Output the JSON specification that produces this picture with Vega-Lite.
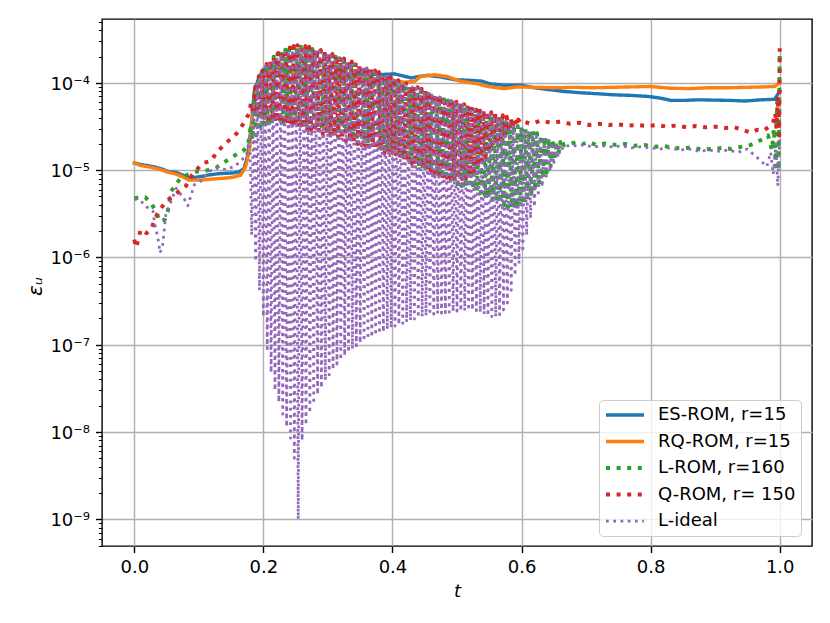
{
  "$schema": "https://vega.github.io/schema/vega-lite/v6.json",
  "width": 710,
  "height": 527,
  "autosize": {"type": "none"},
  "padding": {"left": 102, "top": 19, "right": 18, "bottom": 77},
  "background": "white",
  "config": {
    "font": "DejaVu Sans",
    "view": {"stroke": "black", "strokeWidth": 1.4},
    "axis": {
      "grid": true, "gridColor": "#b0b0b0", "gridWidth": 1.4, "domain": false,
      "tickColor": "black", "tickWidth": 1.4, "tickSize": 6.5,
      "labelFont": "DejaVu Sans", "labelFontSize": 18, "labelColor": "black", "labelPadding": 6,
      "labelOverlap": false, "labelBound": false, "labelFlush": false,
      "titleFont": "DejaVu Sans", "titleFontSize": 18, "titleFontWeight": "normal", "titleColor": "black"
    }
  },
  "data": {
    "values": [
      {"s":"ES","t":0,"e":1.21e-5},{"s":"ES","t":0.01,"e":1.16e-5},{"s":"ES","t":0.026,"e":1.11e-5},{"s":"ES","t":0.04,"e":1.05e-5},{"s":"ES","t":0.052,"e":9.7e-6},{"s":"ES","t":0.065,"e":9.4e-6},{"s":"ES","t":0.075,"e":8.8e-6},{"s":"ES","t":0.085,"e":8.2e-6},{"s":"ES","t":0.095,"e":8.3e-6},{"s":"ES","t":0.105,"e":8.5e-6},{"s":"ES","t":0.115,"e":8.8e-6},{"s":"ES","t":0.129,"e":9.1e-6},{"s":"ES","t":0.14,"e":9.2e-6},{"s":"ES","t":0.153,"e":9.3e-6},{"s":"ES","t":0.163,"e":9.6e-6},{"s":"ES","t":0.17,"e":1.05e-5},{"s":"ES","t":0.176,"e":1.5e-5},{"s":"ES","t":0.181,"e":3.2e-5},{"s":"ES","t":0.186,"e":8e-5},{"s":"ES","t":0.193,"e":1.15e-4},{"s":"ES","t":0.2,"e":1.42e-4},{"s":"ES","t":0.215,"e":1.45e-4},{"s":"ES","t":0.25,"e":1.4e-4},{"s":"ES","t":0.3,"e":1.3e-4},{"s":"ES","t":0.35,"e":1.25e-4},{"s":"ES","t":0.38,"e":1.25e-4},{"s":"ES","t":0.403,"e":1.27e-4},{"s":"ES","t":0.429,"e":1.14e-4},{"s":"ES","t":0.44,"e":1.18e-4},{"s":"ES","t":0.455,"e":1.22e-4},{"s":"ES","t":0.475,"e":1.17e-4},{"s":"ES","t":0.496,"e":1.09e-4},{"s":"ES","t":0.52,"e":1.07e-4},{"s":"ES","t":0.538,"e":1.05e-4},{"s":"ES","t":0.55,"e":9.8e-5},{"s":"ES","t":0.574,"e":9.4e-5},{"s":"ES","t":0.6,"e":9.4e-5},{"s":"ES","t":0.62,"e":8.8e-5},{"s":"ES","t":0.641,"e":8.4e-5},{"s":"ES","t":0.665,"e":8e-5},{"s":"ES","t":0.693,"e":7.7e-5},{"s":"ES","t":0.72,"e":7.5e-5},{"s":"ES","t":0.744,"e":7.3e-5},{"s":"ES","t":0.77,"e":7.2e-5},{"s":"ES","t":0.796,"e":7e-5},{"s":"ES","t":0.815,"e":6.7e-5},{"s":"ES","t":0.832,"e":6.3e-5},{"s":"ES","t":0.85,"e":6.3e-5},{"s":"ES","t":0.873,"e":6.4e-5},{"s":"ES","t":0.9,"e":6.35e-5},{"s":"ES","t":0.925,"e":6.3e-5},{"s":"ES","t":0.946,"e":6.2e-5},{"s":"ES","t":0.97,"e":6.4e-5},{"s":"ES","t":0.992,"e":6.5e-5},{"s":"ES","t":1.0,"e":8e-5},
      {"s":"RQ","t":0,"e":1.21e-5},{"s":"RQ","t":0.01,"e":1.13e-5},{"s":"RQ","t":0.026,"e":1.08e-5},{"s":"RQ","t":0.04,"e":1.02e-5},{"s":"RQ","t":0.052,"e":9.5e-6},{"s":"RQ","t":0.065,"e":9e-6},{"s":"RQ","t":0.075,"e":8.4e-6},{"s":"RQ","t":0.085,"e":7.7e-6},{"s":"RQ","t":0.103,"e":7.7e-6},{"s":"RQ","t":0.12,"e":7.9e-6},{"s":"RQ","t":0.14,"e":8.1e-6},{"s":"RQ","t":0.153,"e":8.3e-6},{"s":"RQ","t":0.165,"e":8.8e-6},{"s":"RQ","t":0.172,"e":1.07e-5},{"s":"RQ","t":0.178,"e":1.6e-5},{"s":"RQ","t":0.184,"e":4.7e-5},{"s":"RQ","t":0.191,"e":9.1e-5},{"s":"RQ","t":0.2,"e":1.3e-4},{"s":"RQ","t":0.215,"e":1.38e-4},{"s":"RQ","t":0.25,"e":1.32e-4},{"s":"RQ","t":0.3,"e":1.24e-4},{"s":"RQ","t":0.35,"e":1.15e-4},{"s":"RQ","t":0.4,"e":1.08e-4},{"s":"RQ","t":0.418,"e":1.02e-4},{"s":"RQ","t":0.434,"e":1.04e-4},{"s":"RQ","t":0.444,"e":1.19e-4},{"s":"RQ","t":0.465,"e":1.24e-4},{"s":"RQ","t":0.485,"e":1.18e-4},{"s":"RQ","t":0.506,"e":1.04e-4},{"s":"RQ","t":0.53,"e":9.8e-5},{"s":"RQ","t":0.548,"e":9.1e-5},{"s":"RQ","t":0.573,"e":8.6e-5},{"s":"RQ","t":0.594,"e":9e-5},{"s":"RQ","t":0.62,"e":8.9e-5},{"s":"RQ","t":0.65,"e":8.8e-5},{"s":"RQ","t":0.68,"e":8.9e-5},{"s":"RQ","t":0.71,"e":8.8e-5},{"s":"RQ","t":0.74,"e":8.9e-5},{"s":"RQ","t":0.77,"e":9e-5},{"s":"RQ","t":0.8,"e":9.1e-5},{"s":"RQ","t":0.83,"e":8.7e-5},{"s":"RQ","t":0.86,"e":8.6e-5},{"s":"RQ","t":0.89,"e":8.8e-5},{"s":"RQ","t":0.92,"e":8.8e-5},{"s":"RQ","t":0.95,"e":8.9e-5},{"s":"RQ","t":0.975,"e":9e-5},{"s":"RQ","t":0.992,"e":9.1e-5},{"s":"RQ","t":1.0,"e":1.0e-4},
      {"s":"L","t":0,"e":4.8e-6},{"s":"L","t":0.017,"e":4.9e-6},{"s":"L","t":0.027,"e":4.1e-6},{"s":"L","t":0.035,"e":3.2e-6},{"s":"L","t":0.039,"e":2.6e-6},{"s":"L","t":0.047,"e":2.7e-6},{"s":"L","t":0.052,"e":3.4e-6},{"s":"L","t":0.057,"e":5.7e-6},{"s":"L","t":0.072,"e":8.2e-6},{"s":"L","t":0.085,"e":9e-6},{"s":"L","t":0.098,"e":9.7e-6},{"s":"L","t":0.114,"e":1e-5},{"s":"L","t":0.127,"e":1.07e-5},{"s":"L","t":0.142,"e":1.27e-5},{"s":"L","t":0.153,"e":1.44e-5},{"s":"L","t":0.168,"e":1.65e-5},{"s":"L","t":0.176,"e":1.88e-5},
      {"s":"L","t":0.18,"e":3e-5},{"s":"L","t":0.183,"e":2.2e-5},{"s":"L","t":0.186,"e":6e-5},{"s":"L","t":0.189,"e":2.5e-5},{"s":"L","t":0.192,"e":1e-4},{"s":"L","t":0.195,"e":2.8e-5},{"s":"L","t":0.198,"e":1.35e-4},{"s":"L","t":0.201,"e":3e-5},{"s":"L","t":0.204,"e":1.6e-4},{"s":"L","t":0.207,"e":3.15e-5},{"s":"L","t":0.21,"e":1.8e-4},{"s":"L","t":0.213,"e":3.3e-5},{"s":"L","t":0.216,"e":2e-4},{"s":"L","t":0.219,"e":3.4e-5},{"s":"L","t":0.222,"e":2.15e-4},{"s":"L","t":0.225,"e":3.5e-5},{"s":"L","t":0.228,"e":2.3e-4},{"s":"L","t":0.231,"e":3.5e-5},{"s":"L","t":0.234,"e":2.4e-4},{"s":"L","t":0.237,"e":3.5e-5},{"s":"L","t":0.24,"e":2.5e-4},{"s":"L","t":0.243,"e":3.5e-5},{"s":"L","t":0.246,"e":2.55e-4},{"s":"L","t":0.249,"e":3.45e-5},{"s":"L","t":0.252,"e":2.6e-4},{"s":"L","t":0.255,"e":3.4e-5},{"s":"L","t":0.258,"e":2.6e-4},{"s":"L","t":0.261,"e":3.35e-5},{"s":"L","t":0.264,"e":2.6e-4},{"s":"L","t":0.267,"e":3.3e-5},{"s":"L","t":0.27,"e":2.55e-4},{"s":"L","t":0.273,"e":3.25e-5},{"s":"L","t":0.276,"e":2.45e-4},{"s":"L","t":0.279,"e":3.15e-5},{"s":"L","t":0.282,"e":2.4e-4},{"s":"L","t":0.285,"e":3.1e-5},{"s":"L","t":0.288,"e":2.32e-4},{"s":"L","t":0.291,"e":3.05e-5},{"s":"L","t":0.294,"e":2.25e-4},{"s":"L","t":0.297,"e":3e-5},{"s":"L","t":0.3,"e":2.17e-4},{"s":"L","t":0.303,"e":2.9e-5},{"s":"L","t":0.306,"e":2.08e-4},{"s":"L","t":0.309,"e":2.85e-5},{"s":"L","t":0.312,"e":2e-4},{"s":"L","t":0.315,"e":2.8e-5},{"s":"L","t":0.318,"e":1.92e-4},{"s":"L","t":0.321,"e":2.7e-5},{"s":"L","t":0.324,"e":1.84e-4},{"s":"L","t":0.327,"e":2.6e-5},{"s":"L","t":0.33,"e":1.77e-4},{"s":"L","t":0.333,"e":2.55e-5},{"s":"L","t":0.336,"e":1.7e-4},{"s":"L","t":0.339,"e":2.45e-5},{"s":"L","t":0.342,"e":1.64e-4},{"s":"L","t":0.345,"e":2.4e-5},{"s":"L","t":0.348,"e":1.58e-4},{"s":"L","t":0.351,"e":2.3e-5},{"s":"L","t":0.354,"e":1.52e-4},{"s":"L","t":0.357,"e":2.2e-5},{"s":"L","t":0.36,"e":1.46e-4},{"s":"L","t":0.363,"e":2.15e-5},{"s":"L","t":0.366,"e":1.4e-4},{"s":"L","t":0.369,"e":2.05e-5},{"s":"L","t":0.372,"e":1.33e-4},{"s":"L","t":0.375,"e":1.95e-5},{"s":"L","t":0.378,"e":1.27e-4},{"s":"L","t":0.381,"e":1.85e-5},{"s":"L","t":0.384,"e":1.21e-4},{"s":"L","t":0.387,"e":1.78e-5},{"s":"L","t":0.39,"e":1.15e-4},{"s":"L","t":0.393,"e":1.7e-5},{"s":"L","t":0.396,"e":1.1e-4},{"s":"L","t":0.399,"e":1.6e-5},{"s":"L","t":0.402,"e":1.05e-4},{"s":"L","t":0.405,"e":1.52e-5},{"s":"L","t":0.408,"e":1.01e-4},{"s":"L","t":0.411,"e":1.45e-5},{"s":"L","t":0.414,"e":9.7e-5},{"s":"L","t":0.417,"e":1.37e-5},{"s":"L","t":0.42,"e":9.3e-5},{"s":"L","t":0.423,"e":1.3e-5},{"s":"L","t":0.426,"e":9e-5},{"s":"L","t":0.429,"e":1.24e-5},{"s":"L","t":0.432,"e":8.7e-5},{"s":"L","t":0.435,"e":1.17e-5},{"s":"L","t":0.438,"e":8.4e-5},{"s":"L","t":0.441,"e":1.1e-5},{"s":"L","t":0.444,"e":8.1e-5},{"s":"L","t":0.447,"e":1.05e-5},{"s":"L","t":0.45,"e":7.8e-5},{"s":"L","t":0.453,"e":1e-5},{"s":"L","t":0.456,"e":7.5e-5},{"s":"L","t":0.459,"e":9.5e-6},{"s":"L","t":0.462,"e":7.2e-5},{"s":"L","t":0.465,"e":9.1e-6},{"s":"L","t":0.468,"e":6.95e-5},{"s":"L","t":0.471,"e":8.7e-6},{"s":"L","t":0.474,"e":6.7e-5},{"s":"L","t":0.477,"e":8.2e-6},{"s":"L","t":0.48,"e":6.5e-5},{"s":"L","t":0.483,"e":7.8e-6},{"s":"L","t":0.486,"e":6.3e-5},{"s":"L","t":0.489,"e":7.5e-6},{"s":"L","t":0.492,"e":6.1e-5},{"s":"L","t":0.495,"e":7.2e-6},{"s":"L","t":0.498,"e":5.9e-5},{"s":"L","t":0.501,"e":6.9e-6},{"s":"L","t":0.504,"e":5.65e-5},{"s":"L","t":0.507,"e":6.6e-6},{"s":"L","t":0.51,"e":5.45e-5},{"s":"L","t":0.513,"e":6.4e-6},{"s":"L","t":0.516,"e":5.25e-5},{"s":"L","t":0.519,"e":6.2e-6},{"s":"L","t":0.522,"e":5.05e-5},{"s":"L","t":0.525,"e":6e-6},{"s":"L","t":0.528,"e":4.85e-5},{"s":"L","t":0.531,"e":5.7e-6},{"s":"L","t":0.534,"e":4.7e-5},{"s":"L","t":0.537,"e":5.5e-6},{"s":"L","t":0.54,"e":4.5e-5},{"s":"L","t":0.543,"e":5.2e-6},{"s":"L","t":0.546,"e":4.35e-5},{"s":"L","t":0.549,"e":4.9e-6},{"s":"L","t":0.552,"e":4.15e-5},{"s":"L","t":0.555,"e":4.6e-6},{"s":"L","t":0.558,"e":4e-5},{"s":"L","t":0.561,"e":4.4e-6},{"s":"L","t":0.564,"e":3.85e-5},{"s":"L","t":0.567,"e":4.2e-6},{"s":"L","t":0.57,"e":3.7e-5},{"s":"L","t":0.573,"e":4e-6},{"s":"L","t":0.576,"e":3.55e-5},{"s":"L","t":0.579,"e":3.8e-6},{"s":"L","t":0.582,"e":3.4e-5},{"s":"L","t":0.585,"e":3.7e-6},{"s":"L","t":0.588,"e":3.3e-5},{"s":"L","t":0.591,"e":3.7e-6},{"s":"L","t":0.594,"e":3.2e-5},{"s":"L","t":0.597,"e":3.8e-6},{"s":"L","t":0.6,"e":3.1e-5},{"s":"L","t":0.603,"e":4e-6},{"s":"L","t":0.606,"e":3e-5},{"s":"L","t":0.609,"e":4.4e-6},{"s":"L","t":0.612,"e":2.9e-5},{"s":"L","t":0.615,"e":5e-6},{"s":"L","t":0.618,"e":2.8e-5},{"s":"L","t":0.621,"e":5.8e-6},{"s":"L","t":0.624,"e":2.65e-5},{"s":"L","t":0.627,"e":6.8e-6},{"s":"L","t":0.63,"e":2.55e-5},{"s":"L","t":0.633,"e":8e-6},{"s":"L","t":0.636,"e":2.45e-5},{"s":"L","t":0.639,"e":9.4e-6},{"s":"L","t":0.642,"e":2.35e-5},{"s":"L","t":0.645,"e":1.1e-5},{"s":"L","t":0.648,"e":2.25e-5},{"s":"L","t":0.651,"e":1.3e-5},{"s":"L","t":0.654,"e":2.15e-5},{"s":"L","t":0.657,"e":1.5e-5},{"s":"L","t":0.66,"e":2.1e-5},{"s":"L","t":0.663,"e":1.75e-5},{"s":"L","t":0.666,"e":2e-5},
      {"s":"L","t":0.675,"e":2e-5},{"s":"L","t":0.685,"e":2.1e-5},{"s":"L","t":0.695,"e":2e-5},{"s":"L","t":0.705,"e":2.1e-5},{"s":"L","t":0.715,"e":1.95e-5},{"s":"L","t":0.73,"e":2.02e-5},{"s":"L","t":0.745,"e":1.95e-5},{"s":"L","t":0.76,"e":2e-5},{"s":"L","t":0.775,"e":1.9e-5},{"s":"L","t":0.79,"e":1.95e-5},{"s":"L","t":0.805,"e":1.85e-5},{"s":"L","t":0.82,"e":1.9e-5},{"s":"L","t":0.835,"e":1.8e-5},{"s":"L","t":0.85,"e":1.78e-5},{"s":"L","t":0.865,"e":1.82e-5},{"s":"L","t":0.88,"e":1.72e-5},{"s":"L","t":0.895,"e":1.75e-5},{"s":"L","t":0.91,"e":1.8e-5},{"s":"L","t":0.925,"e":1.75e-5},{"s":"L","t":0.94,"e":1.85e-5},{"s":"L","t":0.955,"e":1.95e-5},{"s":"L","t":0.965,"e":2.1e-5},{"s":"L","t":0.975,"e":2.3e-5},{"s":"L","t":0.982,"e":2.5e-5},{"s":"L","t":0.988,"e":1.7e-5},{"s":"L","t":0.991,"e":3e-5},{"s":"L","t":0.994,"e":1.1e-5},{"s":"L","t":0.996,"e":6e-5},{"s":"L","t":0.998,"e":1e-5},{"s":"L","t":1.0,"e":2.1e-4},
      {"s":"Q","t":0,"e":1.6e-6},{"s":"Q","t":0.003,"e":1.3e-6},{"s":"Q","t":0.007,"e":1.7e-6},{"s":"Q","t":0.01,"e":2.1e-6},{"s":"Q","t":0.019,"e":1.9e-6},{"s":"Q","t":0.026,"e":2.1e-6},{"s":"Q","t":0.036,"e":3.2e-6},{"s":"Q","t":0.049,"e":4.4e-6},{"s":"Q","t":0.062,"e":5.2e-6},{"s":"Q","t":0.08,"e":6.6e-6},{"s":"Q","t":0.09,"e":8.9e-6},{"s":"Q","t":0.106,"e":1.21e-5},{"s":"Q","t":0.119,"e":1.27e-5},{"s":"Q","t":0.127,"e":1.58e-5},{"s":"Q","t":0.142,"e":2.06e-5},{"s":"Q","t":0.155,"e":2.45e-5},{"s":"Q","t":0.163,"e":2.9e-5},{"s":"Q","t":0.171,"e":3.6e-5},{"s":"Q","t":0.178,"e":4.5e-5},
      {"s":"Q","t":0.181,"e":6e-5},{"s":"Q","t":0.184,"e":4.5e-5},{"s":"Q","t":0.187,"e":9e-5},{"s":"Q","t":0.19,"e":4.4e-5},{"s":"Q","t":0.193,"e":1.2e-4},{"s":"Q","t":0.196,"e":4.2e-5},{"s":"Q","t":0.199,"e":1.45e-4},{"s":"Q","t":0.202,"e":4e-5},{"s":"Q","t":0.205,"e":1.65e-4},{"s":"Q","t":0.208,"e":3.9e-5},{"s":"Q","t":0.211,"e":1.85e-4},{"s":"Q","t":0.214,"e":3.75e-5},{"s":"Q","t":0.217,"e":2.05e-4},{"s":"Q","t":0.22,"e":3.6e-5},{"s":"Q","t":0.223,"e":2.2e-4},{"s":"Q","t":0.226,"e":3.5e-5},{"s":"Q","t":0.229,"e":2.35e-4},{"s":"Q","t":0.232,"e":3.4e-5},{"s":"Q","t":0.235,"e":2.45e-4},{"s":"Q","t":0.238,"e":3.3e-5},{"s":"Q","t":0.241,"e":2.55e-4},{"s":"Q","t":0.244,"e":3.25e-5},{"s":"Q","t":0.247,"e":2.65e-4},{"s":"Q","t":0.25,"e":3.2e-5},{"s":"Q","t":0.253,"e":2.7e-4},{"s":"Q","t":0.256,"e":3.1e-5},{"s":"Q","t":0.259,"e":2.7e-4},{"s":"Q","t":0.262,"e":3e-5},{"s":"Q","t":0.265,"e":2.65e-4},{"s":"Q","t":0.268,"e":2.9e-5},{"s":"Q","t":0.271,"e":2.6e-4},{"s":"Q","t":0.274,"e":2.85e-5},{"s":"Q","t":0.277,"e":2.52e-4},{"s":"Q","t":0.28,"e":2.75e-5},{"s":"Q","t":0.283,"e":2.45e-4},{"s":"Q","t":0.286,"e":2.7e-5},{"s":"Q","t":0.289,"e":2.38e-4},{"s":"Q","t":0.292,"e":2.6e-5},{"s":"Q","t":0.295,"e":2.3e-4},{"s":"Q","t":0.298,"e":2.55e-5},{"s":"Q","t":0.301,"e":2.22e-4},{"s":"Q","t":0.304,"e":2.5e-5},{"s":"Q","t":0.307,"e":2.14e-4},{"s":"Q","t":0.31,"e":2.4e-5},{"s":"Q","t":0.313,"e":2.06e-4},{"s":"Q","t":0.316,"e":2.35e-5},{"s":"Q","t":0.319,"e":1.98e-4},{"s":"Q","t":0.322,"e":2.25e-5},{"s":"Q","t":0.325,"e":1.9e-4},{"s":"Q","t":0.328,"e":2.15e-5},{"s":"Q","t":0.331,"e":1.83e-4},{"s":"Q","t":0.334,"e":2.1e-5},{"s":"Q","t":0.337,"e":1.76e-4},{"s":"Q","t":0.34,"e":2.05e-5},{"s":"Q","t":0.343,"e":1.7e-4},{"s":"Q","t":0.346,"e":2e-5},{"s":"Q","t":0.349,"e":1.63e-4},{"s":"Q","t":0.352,"e":1.95e-5},{"s":"Q","t":0.355,"e":1.57e-4},{"s":"Q","t":0.358,"e":1.9e-5},{"s":"Q","t":0.361,"e":1.51e-4},{"s":"Q","t":0.364,"e":1.85e-5},{"s":"Q","t":0.367,"e":1.45e-4},{"s":"Q","t":0.37,"e":1.8e-5},{"s":"Q","t":0.373,"e":1.39e-4},{"s":"Q","t":0.376,"e":1.72e-5},{"s":"Q","t":0.379,"e":1.33e-4},{"s":"Q","t":0.382,"e":1.65e-5},{"s":"Q","t":0.385,"e":1.27e-4},{"s":"Q","t":0.388,"e":1.6e-5},{"s":"Q","t":0.391,"e":1.22e-4},{"s":"Q","t":0.394,"e":1.55e-5},{"s":"Q","t":0.397,"e":1.17e-4},{"s":"Q","t":0.4,"e":1.5e-5},{"s":"Q","t":0.403,"e":1.12e-4},{"s":"Q","t":0.406,"e":1.44e-5},{"s":"Q","t":0.409,"e":1.07e-4},{"s":"Q","t":0.412,"e":1.38e-5},{"s":"Q","t":0.415,"e":1.03e-4},{"s":"Q","t":0.418,"e":1.32e-5},{"s":"Q","t":0.421,"e":9.9e-5},{"s":"Q","t":0.424,"e":1.26e-5},{"s":"Q","t":0.427,"e":9.5e-5},{"s":"Q","t":0.43,"e":1.2e-5},{"s":"Q","t":0.433,"e":9.2e-5},{"s":"Q","t":0.436,"e":1.15e-5},{"s":"Q","t":0.439,"e":8.9e-5},{"s":"Q","t":0.442,"e":1.1e-5},{"s":"Q","t":0.445,"e":8.6e-5},{"s":"Q","t":0.448,"e":1.06e-5},{"s":"Q","t":0.451,"e":8.3e-5},{"s":"Q","t":0.454,"e":1.02e-5},{"s":"Q","t":0.457,"e":8e-5},{"s":"Q","t":0.46,"e":9.8e-6},{"s":"Q","t":0.463,"e":7.7e-5},{"s":"Q","t":0.466,"e":9.3e-6},{"s":"Q","t":0.469,"e":7.4e-5},{"s":"Q","t":0.472,"e":8.9e-6},{"s":"Q","t":0.475,"e":7.1e-5},{"s":"Q","t":0.478,"e":8.5e-6},{"s":"Q","t":0.481,"e":6.8e-5},{"s":"Q","t":0.484,"e":8.2e-6},{"s":"Q","t":0.487,"e":6.5e-5},{"s":"Q","t":0.49,"e":8e-6},{"s":"Q","t":0.493,"e":6.3e-5},{"s":"Q","t":0.496,"e":7.8e-6},{"s":"Q","t":0.499,"e":6.1e-5},{"s":"Q","t":0.502,"e":7.8e-6},{"s":"Q","t":0.505,"e":5.9e-5},{"s":"Q","t":0.508,"e":7.9e-6},{"s":"Q","t":0.511,"e":5.7e-5},{"s":"Q","t":0.514,"e":8.2e-6},{"s":"Q","t":0.517,"e":5.5e-5},{"s":"Q","t":0.52,"e":8.8e-6},{"s":"Q","t":0.523,"e":5.35e-5},{"s":"Q","t":0.526,"e":9.8e-6},{"s":"Q","t":0.529,"e":5.2e-5},{"s":"Q","t":0.532,"e":1.1e-5},{"s":"Q","t":0.535,"e":5.05e-5},{"s":"Q","t":0.538,"e":1.25e-5},{"s":"Q","t":0.541,"e":4.9e-5},{"s":"Q","t":0.544,"e":1.42e-5},{"s":"Q","t":0.547,"e":4.75e-5},{"s":"Q","t":0.55,"e":1.6e-5},{"s":"Q","t":0.553,"e":4.6e-5},{"s":"Q","t":0.556,"e":1.8e-5},{"s":"Q","t":0.559,"e":4.5e-5},{"s":"Q","t":0.562,"e":2e-5},{"s":"Q","t":0.565,"e":4.4e-5},{"s":"Q","t":0.568,"e":2.25e-5},{"s":"Q","t":0.571,"e":4.25e-5},{"s":"Q","t":0.574,"e":2.5e-5},{"s":"Q","t":0.577,"e":4.1e-5},{"s":"Q","t":0.58,"e":2.75e-5},{"s":"Q","t":0.583,"e":4e-5},{"s":"Q","t":0.586,"e":3e-5},{"s":"Q","t":0.589,"e":3.9e-5},{"s":"Q","t":0.592,"e":3.25e-5},{"s":"Q","t":0.595,"e":3.8e-5},{"s":"Q","t":0.598,"e":3.5e-5},{"s":"Q","t":0.601,"e":3.65e-5},
      {"s":"Q","t":0.615,"e":3.4e-5},{"s":"Q","t":0.63,"e":3.7e-5},{"s":"Q","t":0.645,"e":3.5e-5},{"s":"Q","t":0.66,"e":3.6e-5},{"s":"Q","t":0.675,"e":3.4e-5},{"s":"Q","t":0.69,"e":3.5e-5},{"s":"Q","t":0.705,"e":3.3e-5},{"s":"Q","t":0.72,"e":3.4e-5},{"s":"Q","t":0.735,"e":3.3e-5},{"s":"Q","t":0.75,"e":3.35e-5},{"s":"Q","t":0.765,"e":3.25e-5},{"s":"Q","t":0.78,"e":3.3e-5},{"s":"Q","t":0.795,"e":3.2e-5},{"s":"Q","t":0.81,"e":3.3e-5},{"s":"Q","t":0.825,"e":3.15e-5},{"s":"Q","t":0.84,"e":3.25e-5},{"s":"Q","t":0.855,"e":3.1e-5},{"s":"Q","t":0.87,"e":3.2e-5},{"s":"Q","t":0.885,"e":3.1e-5},{"s":"Q","t":0.9,"e":3.15e-5},{"s":"Q","t":0.915,"e":3.05e-5},{"s":"Q","t":0.93,"e":3.1e-5},{"s":"Q","t":0.945,"e":2.85e-5},{"s":"Q","t":0.955,"e":2.7e-5},{"s":"Q","t":0.965,"e":2.9e-5},{"s":"Q","t":0.975,"e":2.85e-5},{"s":"Q","t":0.985,"e":3.2e-5},{"s":"Q","t":0.99,"e":3.6e-5},{"s":"Q","t":0.993,"e":4.5e-5},{"s":"Q","t":0.995,"e":3e-5},{"s":"Q","t":0.997,"e":7e-5},{"s":"Q","t":0.999,"e":2.5e-5},{"s":"Q","t":1.0,"e":2.5e-4},
      {"s":"I","t":0,"e":4.7e-6},{"s":"I","t":0.012,"e":4.3e-6},{"s":"I","t":0.019,"e":3.8e-6},{"s":"I","t":0.029,"e":3.4e-6},{"s":"I","t":0.031,"e":2.6e-6},{"s":"I","t":0.033,"e":2.2e-6},{"s":"I","t":0.037,"e":1.6e-6},{"s":"I","t":0.04,"e":1.13e-6},{"s":"I","t":0.044,"e":1.4e-6},{"s":"I","t":0.049,"e":3.1e-6},{"s":"I","t":0.057,"e":4.4e-6},{"s":"I","t":0.065,"e":6.2e-6},{"s":"I","t":0.078,"e":4.6e-6},{"s":"I","t":0.083,"e":3.9e-6},{"s":"I","t":0.093,"e":6.8e-6},{"s":"I","t":0.103,"e":7.5e-6},{"s":"I","t":0.116,"e":9.7e-6},{"s":"I","t":0.127,"e":1.06e-5},{"s":"I","t":0.142,"e":1.02e-5},{"s":"I","t":0.155,"e":1.1e-5},{"s":"I","t":0.165,"e":1.27e-5},{"s":"I","t":0.174,"e":1.5e-5},
      {"s":"I","t":0.179,"e":2.5e-5},{"s":"I","t":0.182,"e":1.8e-6},{"s":"I","t":0.185,"e":6e-5},{"s":"I","t":0.188,"e":9e-7},{"s":"I","t":0.191,"e":1e-4},{"s":"I","t":0.194,"e":4.2e-7},{"s":"I","t":0.197,"e":1.3e-4},{"s":"I","t":0.2,"e":2.1e-7},{"s":"I","t":0.203,"e":1.55e-4},{"s":"I","t":0.206,"e":9e-8},{"s":"I","t":0.209,"e":1.75e-4},{"s":"I","t":0.212,"e":4.8e-8},{"s":"I","t":0.215,"e":1.9e-4},{"s":"I","t":0.218,"e":3e-8},{"s":"I","t":0.221,"e":2.05e-4},{"s":"I","t":0.224,"e":2.2e-8},{"s":"I","t":0.227,"e":2.15e-4},{"s":"I","t":0.23,"e":1.6e-8},{"s":"I","t":0.233,"e":2.25e-4},{"s":"I","t":0.236,"e":1.15e-8},{"s":"I","t":0.239,"e":2.35e-4},{"s":"I","t":0.242,"e":8.5e-9},{"s":"I","t":0.245,"e":2.4e-4},{"s":"I","t":0.248,"e":5e-9},{"s":"I","t":0.251,"e":2.45e-4},{"s":"I","t":0.254,"e":1e-9},{"s":"I","t":0.257,"e":2.5e-4},{"s":"I","t":0.26,"e":8e-9},{"s":"I","t":0.263,"e":2.5e-4},{"s":"I","t":0.266,"e":1.2e-8},{"s":"I","t":0.269,"e":2.45e-4},{"s":"I","t":0.272,"e":1.65e-8},{"s":"I","t":0.275,"e":2.4e-4},{"s":"I","t":0.278,"e":2.1e-8},{"s":"I","t":0.281,"e":2.35e-4},{"s":"I","t":0.284,"e":2.7e-8},{"s":"I","t":0.287,"e":2.3e-4},{"s":"I","t":0.29,"e":3.2e-8},{"s":"I","t":0.293,"e":2.2e-4},{"s":"I","t":0.296,"e":3.9e-8},{"s":"I","t":0.299,"e":2.15e-4},{"s":"I","t":0.302,"e":4.5e-8},{"s":"I","t":0.305,"e":2.05e-4},{"s":"I","t":0.308,"e":5.2e-8},{"s":"I","t":0.311,"e":1.98e-4},{"s":"I","t":0.314,"e":6e-8},{"s":"I","t":0.317,"e":1.9e-4},{"s":"I","t":0.32,"e":6.7e-8},{"s":"I","t":0.323,"e":1.83e-4},{"s":"I","t":0.326,"e":7.5e-8},{"s":"I","t":0.329,"e":1.77e-4},{"s":"I","t":0.332,"e":8.2e-8},{"s":"I","t":0.335,"e":1.7e-4},{"s":"I","t":0.338,"e":9e-8},{"s":"I","t":0.341,"e":1.63e-4},{"s":"I","t":0.344,"e":9.7e-8},{"s":"I","t":0.347,"e":1.57e-4},{"s":"I","t":0.35,"e":1.05e-7},{"s":"I","t":0.353,"e":1.52e-4},{"s":"I","t":0.356,"e":1.1e-7},{"s":"I","t":0.359,"e":1.47e-4},{"s":"I","t":0.362,"e":1.16e-7},{"s":"I","t":0.365,"e":1.4e-4},{"s":"I","t":0.368,"e":1.22e-7},{"s":"I","t":0.371,"e":1.35e-4},{"s":"I","t":0.374,"e":1.28e-7},{"s":"I","t":0.377,"e":1.29e-4},{"s":"I","t":0.38,"e":1.34e-7},{"s":"I","t":0.383,"e":1.23e-4},{"s":"I","t":0.386,"e":1.4e-7},{"s":"I","t":0.389,"e":1.18e-4},{"s":"I","t":0.392,"e":1.5e-7},{"s":"I","t":0.395,"e":1.13e-4},{"s":"I","t":0.398,"e":1.57e-7},{"s":"I","t":0.401,"e":1.09e-4},{"s":"I","t":0.404,"e":1.63e-7},{"s":"I","t":0.407,"e":1.05e-4},{"s":"I","t":0.41,"e":1.7e-7},{"s":"I","t":0.413,"e":1.01e-4},{"s":"I","t":0.416,"e":1.76e-7},{"s":"I","t":0.419,"e":9.7e-5},{"s":"I","t":0.422,"e":1.82e-7},{"s":"I","t":0.425,"e":9.3e-5},{"s":"I","t":0.428,"e":1.9e-7},{"s":"I","t":0.431,"e":9e-5},{"s":"I","t":0.434,"e":1.97e-7},{"s":"I","t":0.437,"e":8.7e-5},{"s":"I","t":0.44,"e":2.05e-7},{"s":"I","t":0.443,"e":8.4e-5},{"s":"I","t":0.446,"e":2.1e-7},{"s":"I","t":0.449,"e":8e-5},{"s":"I","t":0.452,"e":2.15e-7},{"s":"I","t":0.455,"e":7.6e-5},{"s":"I","t":0.458,"e":2.2e-7},{"s":"I","t":0.461,"e":7.3e-5},{"s":"I","t":0.464,"e":2.24e-7},{"s":"I","t":0.467,"e":7.1e-5},{"s":"I","t":0.47,"e":2.28e-7},{"s":"I","t":0.473,"e":6.9e-5},{"s":"I","t":0.476,"e":2.3e-7},{"s":"I","t":0.479,"e":6.7e-5},{"s":"I","t":0.482,"e":2.33e-7},{"s":"I","t":0.485,"e":6.5e-5},{"s":"I","t":0.488,"e":2.36e-7},{"s":"I","t":0.491,"e":6.3e-5},{"s":"I","t":0.494,"e":2.4e-7},{"s":"I","t":0.497,"e":6.1e-5},{"s":"I","t":0.5,"e":2.42e-7},{"s":"I","t":0.503,"e":5.8e-5},{"s":"I","t":0.506,"e":2.44e-7},{"s":"I","t":0.509,"e":5.6e-5},{"s":"I","t":0.512,"e":2.46e-7},{"s":"I","t":0.515,"e":5.4e-5},{"s":"I","t":0.518,"e":2.48e-7},{"s":"I","t":0.521,"e":5.2e-5},{"s":"I","t":0.524,"e":2.5e-7},{"s":"I","t":0.527,"e":5e-5},{"s":"I","t":0.53,"e":2.45e-7},{"s":"I","t":0.533,"e":4.8e-5},{"s":"I","t":0.536,"e":2.35e-7},{"s":"I","t":0.539,"e":4.65e-5},{"s":"I","t":0.542,"e":2.25e-7},{"s":"I","t":0.545,"e":4.5e-5},{"s":"I","t":0.548,"e":2.15e-7},{"s":"I","t":0.551,"e":4.3e-5},{"s":"I","t":0.554,"e":2.1e-7},{"s":"I","t":0.557,"e":4.15e-5},{"s":"I","t":0.56,"e":2.1e-7},{"s":"I","t":0.563,"e":4e-5},{"s":"I","t":0.566,"e":2.2e-7},{"s":"I","t":0.569,"e":3.8e-5},{"s":"I","t":0.572,"e":2.5e-7},{"s":"I","t":0.575,"e":3.6e-5},{"s":"I","t":0.578,"e":3e-7},{"s":"I","t":0.581,"e":3.45e-5},{"s":"I","t":0.584,"e":4.2e-7},{"s":"I","t":0.587,"e":3.3e-5},{"s":"I","t":0.59,"e":6.2e-7},{"s":"I","t":0.593,"e":3.1e-5},{"s":"I","t":0.596,"e":8.5e-7},{"s":"I","t":0.599,"e":3e-5},{"s":"I","t":0.602,"e":1.15e-6},{"s":"I","t":0.605,"e":2.85e-5},{"s":"I","t":0.608,"e":1.8e-6},{"s":"I","t":0.611,"e":2.7e-5},{"s":"I","t":0.614,"e":2.8e-6},{"s":"I","t":0.617,"e":2.6e-5},{"s":"I","t":0.62,"e":3.8e-6},{"s":"I","t":0.623,"e":2.45e-5},{"s":"I","t":0.626,"e":5e-6},{"s":"I","t":0.629,"e":2.35e-5},{"s":"I","t":0.632,"e":6.4e-6},{"s":"I","t":0.635,"e":2.25e-5},{"s":"I","t":0.638,"e":7.8e-6},{"s":"I","t":0.641,"e":2.2e-5},{"s":"I","t":0.644,"e":9.5e-6},{"s":"I","t":0.647,"e":2.1e-5},{"s":"I","t":0.65,"e":1.15e-5},{"s":"I","t":0.653,"e":2.05e-5},{"s":"I","t":0.656,"e":1.4e-5},{"s":"I","t":0.659,"e":2e-5},{"s":"I","t":0.662,"e":1.65e-5},{"s":"I","t":0.665,"e":1.9e-5},
      {"s":"I","t":0.68,"e":1.9e-5},{"s":"I","t":0.695,"e":1.95e-5},{"s":"I","t":0.71,"e":1.85e-5},{"s":"I","t":0.725,"e":1.9e-5},{"s":"I","t":0.74,"e":1.85e-5},{"s":"I","t":0.755,"e":1.9e-5},{"s":"I","t":0.77,"e":1.8e-5},{"s":"I","t":0.785,"e":1.85e-5},{"s":"I","t":0.8,"e":1.8e-5},{"s":"I","t":0.815,"e":1.75e-5},{"s":"I","t":0.83,"e":1.8e-5},{"s":"I","t":0.845,"e":1.7e-5},{"s":"I","t":0.86,"e":1.75e-5},{"s":"I","t":0.875,"e":1.65e-5},{"s":"I","t":0.89,"e":1.7e-5},{"s":"I","t":0.905,"e":1.65e-5},{"s":"I","t":0.92,"e":1.7e-5},{"s":"I","t":0.935,"e":1.6e-5},{"s":"I","t":0.95,"e":1.75e-5},{"s":"I","t":0.96,"e":1.5e-5},{"s":"I","t":0.97,"e":1.3e-5},{"s":"I","t":0.98,"e":1.1e-5},{"s":"I","t":0.986,"e":1.6e-5},{"s":"I","t":0.99,"e":9e-6},{"s":"I","t":0.994,"e":2e-5},{"s":"I","t":0.997,"e":6.6e-6},{"s":"I","t":1.0,"e":2.5e-5}
    ]
  },
  "encoding": {
    "x": {
      "field": "t", "type": "quantitative",
      "scale": {"domain": [-0.05, 1.05], "nice": false, "zero": false},
      "axis": {"values": [0, 0.2, 0.4, 0.6, 0.8, 1.0], "format": ".1f", "title": "t", "titleFontStyle": "italic", "titleY": 45, "titleBaseline": "middle"}
    },
    "y": {
      "field": "e", "type": "quantitative",
      "scale": {"type": "log", "domain": [4.94e-10, 5.4e-4], "nice": false},
      "axis": {
        "values": [5e-10,6e-10,7e-10,8e-10,9e-10,1e-9,2e-9,3e-9,4e-9,5e-9,6e-9,7e-9,8e-9,9e-9,1e-8,2e-8,3e-8,4e-8,5e-8,6e-8,7e-8,8e-8,9e-8,1e-7,2e-7,3e-7,4e-7,5e-7,6e-7,7e-7,8e-7,9e-7,1e-6,2e-6,3e-6,4e-6,5e-6,6e-6,7e-6,8e-6,9e-6,1e-5,2e-5,3e-5,4e-5,5e-5,6e-5,7e-5,8e-5,9e-5,1e-4,2e-4,3e-4,4e-4,5e-4],
        "labelExpr": "abs(log(datum.value)/LN10 - round(log(datum.value)/LN10)) < 0.01 ? '10⁻' + ['⁰','¹','²','³','⁴','⁵','⁶','⁷','⁸','⁹'][-round(log(datum.value)/LN10)] : ''",
        "labelOffset": 1.5,
        "tickSize": {"condition": {"test": "abs(log(datum.value)/LN10 - round(log(datum.value)/LN10)) < 0.01", "value": 6.5}, "value": 3.6},
        "tickWidth": {"condition": {"test": "abs(log(datum.value)/LN10 - round(log(datum.value)/LN10)) < 0.01", "value": 1.4}, "value": 1.0},
        "gridOpacity": {"condition": {"test": "abs(log(datum.value)/LN10 - round(log(datum.value)/LN10)) < 0.01", "value": 1}, "value": 0},
        "title": "εᵤ", "titleFontStyle": "italic", "titleFontSize": 20, "titleX": -67, "titleY": 267, "titleAngle": -90, "titleAlign": "center", "titleBaseline": "middle"
      }
    },
    "color": {
      "field": "s", "type": "nominal",
      "scale": {"domain": ["ES", "RQ", "L", "Q", "I"], "range": ["#1f77b4", "#ff7f0e", "#2ca02c", "#d62728", "#9467bd"]},
      "legend": {
        "title": null, "orient": "none", "legendX": 497, "legendY": 381,
        "symbolType": "stroke", "symbolSize": 1444, "clipHeight": 20, "rowPadding": 6.5,
        "labelFont": "DejaVu Sans", "labelFontSize": 18, "labelColor": "black", "labelOffset": 12, "labelLimit": 300,
        "padding": 5, "fillColor": "rgba(255,255,255,0.8)", "strokeColor": "#cccccc", "cornerRadius": 4,
        "labelExpr": "datum.label == 'ES' ? 'ES-ROM, r=15' : datum.label == 'RQ' ? 'RQ-ROM, r=15' : datum.label == 'L' ? 'L-ROM, r=160' : datum.label == 'Q' ? 'Q-ROM, r= 150' : 'L-ideal'"
      }
    },
    "strokeDash": {
      "field": "s", "type": "nominal",
      "scale": {"domain": ["ES", "RQ", "L", "Q", "I"], "range": [[1, 0], [1, 0], [4, 6.6], [4, 6.6], [2.75, 4.5]]},
      "legend": {
        "title": null, "orient": "none", "legendX": 497, "legendY": 381,
        "symbolType": "stroke", "symbolSize": 1444, "clipHeight": 20, "rowPadding": 6.5,
        "labelFont": "DejaVu Sans", "labelFontSize": 18, "labelColor": "black", "labelOffset": 12, "labelLimit": 300,
        "padding": 5, "fillColor": "rgba(255,255,255,0.8)", "strokeColor": "#cccccc", "cornerRadius": 4,
        "labelExpr": "datum.label == 'ES' ? 'ES-ROM, r=15' : datum.label == 'RQ' ? 'RQ-ROM, r=15' : datum.label == 'L' ? 'L-ROM, r=160' : datum.label == 'Q' ? 'Q-ROM, r= 150' : 'L-ideal'"
      }
    },
    "strokeWidth": {
      "field": "s", "type": "nominal",
      "scale": {"type": "ordinal", "domain": ["ES", "RQ", "L", "Q", "I"], "range": [3.3, 3.3, 4, 4, 2.75]},
      "legend": {
        "title": null, "orient": "none", "legendX": 497, "legendY": 381,
        "symbolType": "stroke", "symbolSize": 1444, "clipHeight": 20, "rowPadding": 6.5,
        "labelFont": "DejaVu Sans", "labelFontSize": 18, "labelColor": "black", "labelOffset": 12, "labelLimit": 300,
        "padding": 5, "fillColor": "rgba(255,255,255,0.8)", "strokeColor": "#cccccc", "cornerRadius": 4,
        "labelExpr": "datum.label == 'ES' ? 'ES-ROM, r=15' : datum.label == 'RQ' ? 'RQ-ROM, r=15' : datum.label == 'L' ? 'L-ROM, r=160' : datum.label == 'Q' ? 'Q-ROM, r= 150' : 'L-ideal'"
      }
    }
  },
  "layer": [
    {"transform": [{"filter": "datum.s == 'ES'"}], "mark": {"type": "line", "strokeCap": "square", "strokeJoin": "round"}},
    {"transform": [{"filter": "datum.s == 'RQ'"}], "mark": {"type": "line", "strokeCap": "square", "strokeJoin": "round"}},
    {"transform": [{"filter": "datum.s == 'L'"}], "mark": {"type": "line", "strokeCap": "butt", "strokeJoin": "round"}},
    {"transform": [{"filter": "datum.s == 'Q'"}], "mark": {"type": "line", "strokeCap": "butt", "strokeJoin": "round"}},
    {"transform": [{"filter": "datum.s == 'I'"}], "mark": {"type": "line", "strokeCap": "butt", "strokeJoin": "round"}}
  ]
}
